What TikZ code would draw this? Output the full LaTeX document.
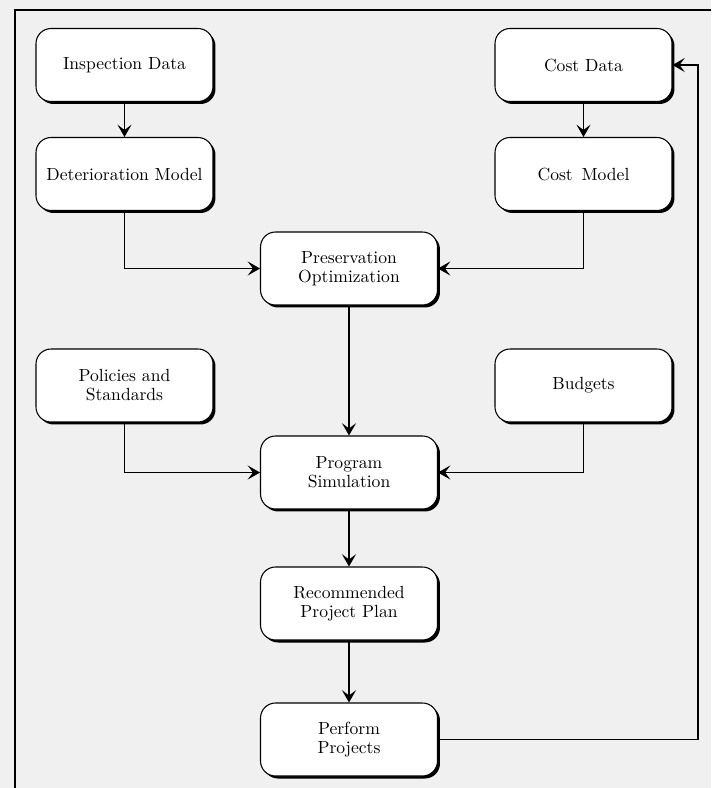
\documentclass[tikz,border=0pt]{standalone}
\usepackage{amsmath}
\usetikzlibrary{arrows.meta,shadows}

\begin{document}
\begin{tikzpicture}[x=0.02cm,y=-0.02cm,
    box/.style={draw,line width=0.6pt,fill=white,rounded corners=0.3cm,
      minimum width=3.54cm,minimum height=1.46cm,align=center,
      font=\fontsize{10}{10.8}\selectfont,
      drop shadow={shadow xshift=0.05cm,shadow yshift=-0.05cm,fill=black,opacity=1}},
    flow/.style={-{Stealth[length=7pt,width=8pt,inset=3pt]},line width=0.6pt}]
          \fill[gray!12] (0,0) rectangle (711,788);
          \useasboundingbox (0,0) rectangle (711,788);
          \draw[line width=0.8pt] (15,788)--(15,10)--(711,10);
          \node[box] (insp) at (124.5,65) {Inspection Data};
          \node[box] (detm) at (124.5,174) {Deterioration Model};
          \node[box] (costd) at (583.5,65) {Cost Data};
          \node[box] (costm) at (583.5,174) {Cost\enspace Model};
          \node[box] (pres) at (349,268.5) {Preservation\\Optimization};
          \node[box] (pol) at (124.5,385.5) {Policies and\\Standards};
          \node[box] (bud) at (583.5,385.5) {Budgets};
          \node[box] (prog) at (349,472.5) {Program\\Simulation};
          \node[box] (rec) at (349,603.5) {Recommended\\Project Plan};
          \node[box] (perf) at (349,739.5) {Perform\\Projects};
          \draw[flow] (insp)--(detm);
          \draw[flow] (costd)--(costm);
          \draw[flow] (detm.south) |- (pres.west);
          \draw[flow] (costm.south) |- (pres.east);
          \draw[flow] (pres)--(prog);
          \draw[flow] (pol.south) |- (prog.west);
          \draw[flow] (bud.south) |- (prog.east);
          \draw[flow] (prog)--(rec);
          \draw[flow] (rec)--(perf);
          % loop back: performed work feeds the cost data
          \coordinate (back) at (698,400);
          \draw[flow] (perf.east) -| (back) |- (costd.east);
        \end{tikzpicture}
\end{document}
